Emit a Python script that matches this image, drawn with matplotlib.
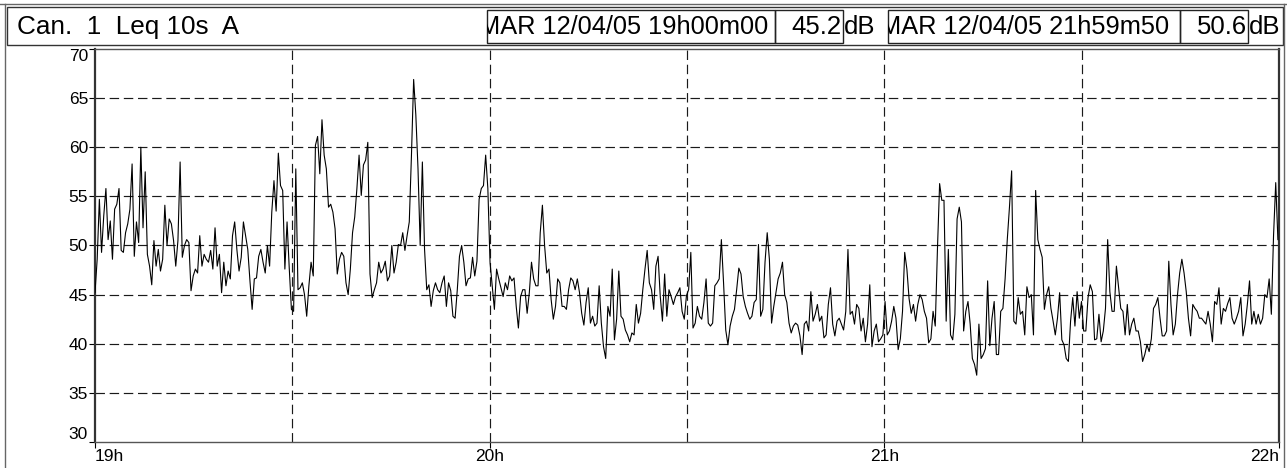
import matplotlib
matplotlib.use("Agg")
import matplotlib.pyplot as plt
import numpy as np
from matplotlib.patches import Rectangle
from matplotlib.lines import Line2D
from matplotlib.transforms import Bbox, TransformedBbox

plt.rcParams['font.family'] = ['Liberation Sans', 'DejaVu Sans']

# Leq 10s (A) levels in dB, read every ~20 s from 19h00m00 to 21h59m50
lv_1900_1936 = [
    45.2,
    48.6, 54.7, 49.3, 53.0, 55.8, 50.6, 52.5, 48.6, 53.7, 54.2,
    55.8, 49.5, 49.3, 51.3, 52.2, 53.7, 58.3, 48.9, 52.4, 50.3,
    60.0, 51.8, 57.5, 49.1, 47.9, 46.0, 50.5, 47.9, 49.6, 47.4,
    48.6, 54.1, 50.0, 52.7, 52.2, 50.5, 47.9, 50.5, 58.5, 48.8,
    50.0, 50.6, 50.3, 45.4, 46.9, 47.6, 47.2, 51.0, 47.9, 49.1,
    48.6, 48.3, 49.5, 47.6, 51.8, 47.9, 49.1, 45.2, 48.3, 45.9,
    47.4, 46.6, 51.0, 52.4, 49.6, 47.4, 48.8, 52.4, 51.0, 49.6,
    46.4, 43.5, 46.6, 46.7, 48.9, 49.6, 48.3, 47.2, 50.0, 47.9,
    53.4, 56.6, 53.5, 59.4, 56.1, 55.6, 47.6, 52.4, 47.7, 43.5,
    43.3, 57.8, 45.5, 45.7, 46.2, 45.0, 42.8, 45.9, 48.3, 46.9,
    60.2, 61.1, 57.3, 62.8, 59.2, 57.8, 53.9,
]
lv_1936_2012 = [
    54.2, 53.4, 51.7, 47.1, 48.6, 49.3, 48.9, 46.2, 45.0, 47.6,
    51.3, 52.9, 55.8, 59.2, 55.1, 58.2, 58.7, 60.5, 47.1, 44.7,
    45.5, 46.2, 48.3, 47.2, 47.6, 48.4, 46.4, 46.9, 50.0, 47.2,
    48.3, 50.1, 50.0, 51.3, 49.5, 51.0, 52.4, 59.2, 66.9, 63.3,
    57.8, 50.0, 58.5, 49.6, 45.5, 46.0, 43.8, 45.4, 46.2, 45.5,
    45.2, 46.2, 46.9, 43.8, 46.2, 45.4, 42.8, 42.6, 45.5, 48.9,
    50.0, 48.3, 45.9, 46.6, 46.7, 48.8, 46.9, 48.4, 54.7, 55.8,
    56.1, 59.2, 55.8, 48.3, 45.9, 43.5, 47.6, 46.6, 45.7, 44.8,
    46.2, 45.5, 46.9, 46.4, 46.7, 43.8, 41.6, 44.8, 45.5, 45.5,
    43.1, 45.2, 48.3, 46.6, 45.9, 45.9, 51.3, 54.1, 50.0, 47.2,
    47.6, 44.5, 42.5, 43.8, 46.6, 46.2, 43.8, 43.8,
]
lv_2012_2048 = [
    43.5, 45.5, 46.7, 46.4, 45.5, 46.6, 45.2, 43.1, 41.9, 44.2,
    45.7, 42.1, 42.8, 41.8, 42.1, 45.9, 42.1, 39.7, 38.5, 43.8,
    42.8, 47.6, 40.4, 42.5, 47.4, 42.8, 42.5, 41.4, 40.9, 40.2,
    41.1, 40.9, 44.0, 42.1, 43.1, 45.5, 47.6, 49.5, 46.2, 45.5,
    43.5, 47.9, 48.9, 44.8, 42.3, 47.1, 42.8, 45.5, 44.8, 44.0,
    44.8, 45.2, 45.7, 43.3, 42.5, 44.9, 45.5, 49.3, 41.6, 42.1,
    43.8, 42.8, 42.5, 44.2, 46.6, 42.1, 41.8, 42.1, 45.9, 46.2,
    46.6, 50.6, 46.2, 41.4, 39.9, 41.8, 42.8, 43.5, 45.5, 47.7,
    47.1, 44.8, 43.8, 43.1, 42.5, 42.8, 44.2, 44.5, 50.1, 42.8,
    43.5, 48.3, 51.3, 48.6, 42.1, 43.8, 45.2, 46.6, 47.2, 48.3,
    45.0, 44.2, 42.1, 41.1, 41.8, 42.1, 41.9, 40.8,
]
lv_2048_2124 = [
    38.9, 42.0, 42.3, 41.3, 45.3, 42.3, 43.0, 44.0, 42.3, 42.8,
    40.6, 40.9, 44.0, 45.7, 42.0, 40.8, 42.3, 42.6, 42.0, 41.4,
    43.3, 49.6, 43.0, 43.3, 42.0, 44.0, 43.6, 41.3, 42.6, 40.2,
    42.0, 46.0, 39.7, 41.3, 42.0, 40.2, 40.5, 40.9, 44.3, 40.9,
    41.3, 42.3, 43.8, 42.6, 39.4, 40.5, 43.3, 49.3, 47.6, 44.6,
    43.1, 44.0, 42.3, 44.0, 45.0, 44.5, 43.3, 42.6, 40.1, 40.5,
    43.3, 41.8, 49.6, 56.3, 54.6, 54.6, 42.3, 49.6, 40.9, 40.4,
    43.0, 52.7, 53.9, 52.4, 41.3, 43.3, 44.3, 42.0, 38.5, 37.9,
    36.8, 42.0, 38.5, 38.9, 39.5, 46.4, 39.8, 42.6, 44.3, 38.9,
    38.9, 43.3, 43.6, 46.6, 50.6, 53.9, 57.6, 42.3, 42.0, 44.7,
    43.0, 43.3, 40.9, 45.8, 44.7, 45.0, 40.9, 55.6, 50.6,
]
lv_2124_2200 = [
    49.6, 48.8, 43.5, 45.0, 45.8, 43.6, 42.3, 40.9, 42.6, 45.2,
    40.4, 39.9, 38.5, 38.2, 42.3, 44.7, 41.8, 45.3, 42.6, 44.3,
    41.3, 41.3, 44.7, 46.0, 45.3, 40.4, 40.5, 43.0, 40.2, 41.3,
    43.6, 50.6, 45.3, 43.3, 43.3, 47.9, 45.7, 43.6, 43.3, 40.9,
    44.0, 40.9, 42.0, 42.6, 41.3, 41.3, 40.2, 38.2, 38.9, 39.9,
    39.2, 40.5, 43.6, 44.0, 44.7, 42.6, 40.8, 40.8, 41.3, 48.4,
    44.0, 40.9, 42.0, 45.0, 47.2, 48.6, 47.2, 45.3, 42.6, 40.8,
    44.0, 43.6, 43.3, 42.6, 42.6, 42.3, 42.0, 43.3, 42.0, 40.2,
    44.3, 44.0, 45.7, 42.0, 43.6, 43.3, 44.1, 44.7, 42.6, 42.0,
    42.6, 43.3, 44.7, 40.8, 42.0, 44.0, 46.4, 42.0, 43.3, 42.0,
    43.0, 42.0, 42.6, 45.0, 44.7, 46.6, 43.0, 51.0, 56.4,
    50.6,
]

levels = np.array(lv_1900_1936 + lv_1936_2012 + lv_2012_2048 + lv_2048_2124 + lv_2124_2200)
seconds = np.linspace(0, 3 * 3600 - 10, len(levels))
hours = 19 + seconds / 3600

y_ticks = [30, 35, 40, 45, 50, 55, 60, 65, 70]
x_ticks = [19, 20, 21, 22]
x_labels = ["19h", "20h", "21h", "22h"]
x_grid = [19.5, 20, 20.5, 21, 21.5]

title = "Can.  1  Leq 10s  A"
cursor_dates = ["MAR 12/04/05 19h00m00", "MAR 12/04/05 21h59m50"]
cursor_values = [45.2, 50.6]

W, H = 1287, 468
fig = plt.figure(figsize=(W / 100, H / 100), dpi=100)


def fx(px):
    return px / W


def fy(py):
    return 1 - py / H


# outer frame
fig.add_artist(Line2D([fx(0), fx(1287)], [fy(4), fy(4)], color='#666666', lw=1))
fig.add_artist(Line2D([fx(5), fx(5)], [fy(4), fy(468)], color='#666666', lw=1))
fig.add_artist(Line2D([fx(1284), fx(1284)], [fy(4), fy(468)], color='#666666', lw=1))

# header bar
fig.add_artist(Rectangle((fx(7), fy(45)), fx(1283) - fx(7), fy(7) - fy(45),
                         fill=False, ec='#333333', lw=1, transform=fig.transFigure))
fig.text(fx(17), fy(27), title, fontsize=18.8, va='center', ha='left')

# cursor boxes: date | value dB
boxes = [(487, 775, 843), (888, 1180, 1248)]
for (x0, xd, x1), date, val in zip(boxes, cursor_dates, cursor_values):
    fig.add_artist(Rectangle((fx(x0), fy(43)), fx(xd) - fx(x0), fy(10) - fy(43),
                             fill=False, ec='#222222', lw=1, transform=fig.transFigure))
    fig.add_artist(Rectangle((fx(xd), fy(43)), fx(x1) - fx(xd), fy(10) - fy(43),
                             fill=False, ec='#222222', lw=1, transform=fig.transFigure))
    t = fig.text(fx(x0 - 8), fy(27), date, fontsize=18.3, va='center', ha='left')
    t.set_clip_box(TransformedBbox(Bbox.from_extents(fx(x0), fy(43), fx(xd), fy(10)), fig.transFigure))
    t.set_clip_on(True)
    fig.text(fx(x1 - 1), fy(27), f"{val:.1f}", fontsize=18.5, va='center', ha='right')
    fig.text(fx(x1 + 1), fy(27), "dB", fontsize=18.5, va='center', ha='left')

# plot area
ax = fig.add_axes([fx(95), fy(442), fx(1279) - fx(95), fy(49) - fy(442)])
ax.plot(hours, levels, color='black', lw=0.8, zorder=3)

for y in y_ticks[1:-1]:
    ax.axhline(y, color='#1a1a1a', lw=0.85, ls=(0, (8, 4)), zorder=1)
for x in x_grid:
    ax.axvline(x, color='#1a1a1a', lw=0.85, ls=(0, (8, 4)), zorder=1)

ax.set_xlim(19, 22)
ax.set_ylim(30, 70)
ax.set_yticks(y_ticks)
ax.set_yticklabels([str(v) for v in y_ticks])
ax.set_xticks(x_ticks)
ax.set_xticklabels(x_labels)
ax.tick_params(direction='out', length=4, width=0.8, labelsize=12.5, pad=1)

ylabels = ax.get_yticklabels()
ylabels[0].set_va('bottom')
ylabels[-1].set_va('top')
xlabels = ax.get_xticklabels()
xlabels[0].set_ha('left')
xlabels[-1].set_ha('right')

for side in ['left', 'right']:
    ax.spines[side].set_linewidth(1.6)
    ax.spines[side].set_color('#333333')
for side in ['top', 'bottom']:
    ax.spines[side].set_linewidth(1.0)
    ax.spines[side].set_color('#555555')

fig.savefig("out.png", dpi=100)
